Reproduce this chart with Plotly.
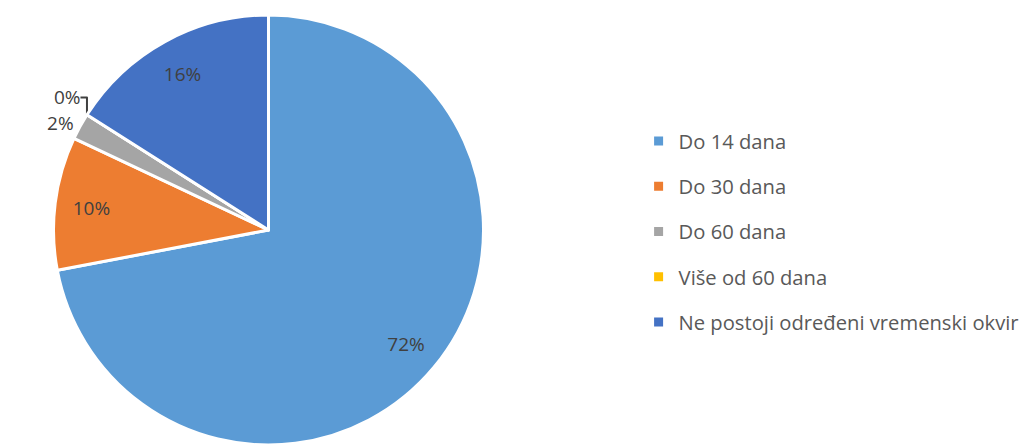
import plotly.graph_objects as go

# Survey answers and their shares (%)
categories = [
    "Do 14 dana",
    "Do 30 dana",
    "Do 60 dana",
    "Više od 60 dana",
    "Ne postoji određeni vremenski okvir",
]
shares = [72, 10, 2, 0, 16]
slice_colors = ["#5B9BD5", "#ED7D31", "#A5A5A5", "#FFC000", "#4472C4"]
# Big slices carry their label inside, the thin ones outside
inner_labels = ["inside", "inside", "none", "none", "inside"]
outer_labels = ["none", "none", "outside", "outside", "none"]

FONT = "'Open Sans', 'Noto Sans', sans-serif"
LABEL_COLOR = "#404040"
LEGEND_COLOR = "#595959"

W, H = 1035, 450
cx_px, r_px = 268.5, 218
pie_domain = dict(x=[(cx_px - r_px) / W, (cx_px + r_px) / W], y=[0, 1])

fig = go.Figure()

# Filled pie with the outside labels of the thin slices
fig.add_trace(go.Pie(
    labels=categories,
    values=shares,
    sort=False,
    direction="clockwise",
    rotation=0,
    marker=dict(colors=slice_colors, line=dict(color="white", width=3)),
    texttemplate="%{value}%",
    textposition=outer_labels,
    textfont=dict(family=FONT, size=19, color=LABEL_COLOR),
    showlegend=False,
    hoverinfo="label+percent",
    domain=pie_domain,
))

# Transparent ring on top that places the inside labels near the rim
fig.add_trace(go.Pie(
    labels=categories,
    values=shares,
    sort=False,
    direction="clockwise",
    rotation=0,
    hole=0.66,
    marker=dict(colors=["rgba(0,0,0,0)"] * len(categories),
                line=dict(width=0)),
    texttemplate="%{value}%",
    textposition=inner_labels,
    insidetextorientation="horizontal",
    textfont=dict(family=FONT, size=19, color=LABEL_COLOR),
    showlegend=False,
    hoverinfo="skip",
    domain=pie_domain,
))

# Legend entries, one per category
for name, color in zip(categories, slice_colors):
    fig.add_trace(go.Scatter(
        x=[None], y=[None], mode="markers", name=name,
        legendgroup=name,
        marker=dict(symbol="square", size=9, color=color),
    ))

fig.update_layout(
    width=W, height=H,
    margin=dict(l=0, r=0, t=15, b=0),
    paper_bgcolor="white",
    plot_bgcolor="white",
    xaxis=dict(visible=False),
    yaxis=dict(visible=False),
    legend=dict(
        x=0.617, xanchor="left",
        y=0.4956, yanchor="middle",
        traceorder="grouped",
        tracegroupgap=16,
        font=dict(family=FONT, size=20.2, color=LEGEND_COLOR),
        bgcolor="rgba(0,0,0,0)",
    ),
)

fig.write_html("out.html")
